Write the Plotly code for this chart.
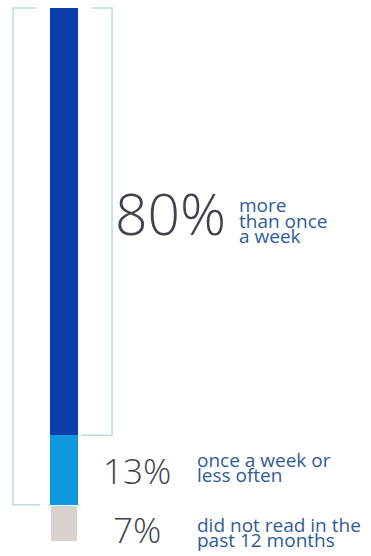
import plotly.graph_objects as go

# Share of people by reading frequency (stacked bottom-up)
categories = ["did not read in the past 12 months",
              "once a week or less often",
              "more than once a week"]
shares = [7, 13, 80]
bar_colors = ["#d8d3cf", "#0b98de", "#0a3eab"]
pct_labels = ["7%", "13%", "80%"]
label_lines = [["did not read in the", "past 12 months"],
               ["once a week or", "less often"],
               ["more", "than once", "a week"]]

W, H = 371, 556
fig = go.Figure()

col = "Lesen"
for cat, val, c in zip(categories, shares, bar_colors):
    fig.add_trace(go.Bar(
        x=[col], y=[val], name=cat, width=1,
        marker=dict(color=c,
                    line=dict(color="white", width=2 if c == bar_colors[0] else 0)),
        hoverinfo="name+y", showlegend=False,
    ))

# cumulative boundaries of the stack
bounds = [0]
for v in shares:
    bounds.append(bounds[-1] + v)
top = bounds[-1]

bracket = dict(color="#b9dde1", width=1.5)
# left bracket: around the two upper segments
lb = bounds[1]
fig.add_shape(type="path", xref="x", yref="y", line=bracket,
              path=f"M -1.01,{top} L -1.845,{top} L -1.845,{lb} L -0.87,{lb}")
# right bracket: around the top segment
rb = bounds[2]
fig.add_shape(type="path", xref="x", yref="y", line=bracket,
              path=f"M 1.03,{top} L 1.755,{top} L 1.755,{rb} L 0.63,{rb}")

pct_font = dict(family="Open Sans", color="#40424c", weight=300)
lab_font = dict(family="Open Sans", color="#2f5b9b", size=19)

# per segment: percent right edge (px), percent size, label left (px), shifts
pct_right = [163, 173, 228]
pct_size = [35, 35, 57]
lab_left = [195, 195, 237]
pct_shift = [-6, 0, 9]
lab_shift = [-9, 2.5, 1]
step = 15.5

for i in range(3):
    mid = (bounds[i] + bounds[i + 1]) / 2
    fig.add_annotation(x=pct_right[i] / W, xref="paper", y=mid, yref="y",
                       text=pct_labels[i], showarrow=False, xanchor="right",
                       yanchor="middle", yshift=pct_shift[i],
                       font=dict(pct_font, size=pct_size[i]))
    lines = label_lines[i]
    n = len(lines)
    for j, t in enumerate(lines):
        off = ((n - 1) / 2 - j) * step + lab_shift[i]
        fig.add_annotation(x=lab_left[i] / W, xref="paper", y=mid, yref="y",
                           text=t, showarrow=False, xanchor="left",
                           yanchor="middle", yshift=off, font=lab_font)

fig.update_layout(
    width=W, height=H, margin=dict(l=0, r=0, t=0, b=0),
    barmode="stack", bargap=0,
    paper_bgcolor="white", plot_bgcolor="white",
    xaxis=dict(range=[-2.318, 11.17], visible=False, fixedrange=True),
    yaxis=dict(range=[-2.6, 101.5], visible=False, fixedrange=True),
)

fig.write_html("out.html")
